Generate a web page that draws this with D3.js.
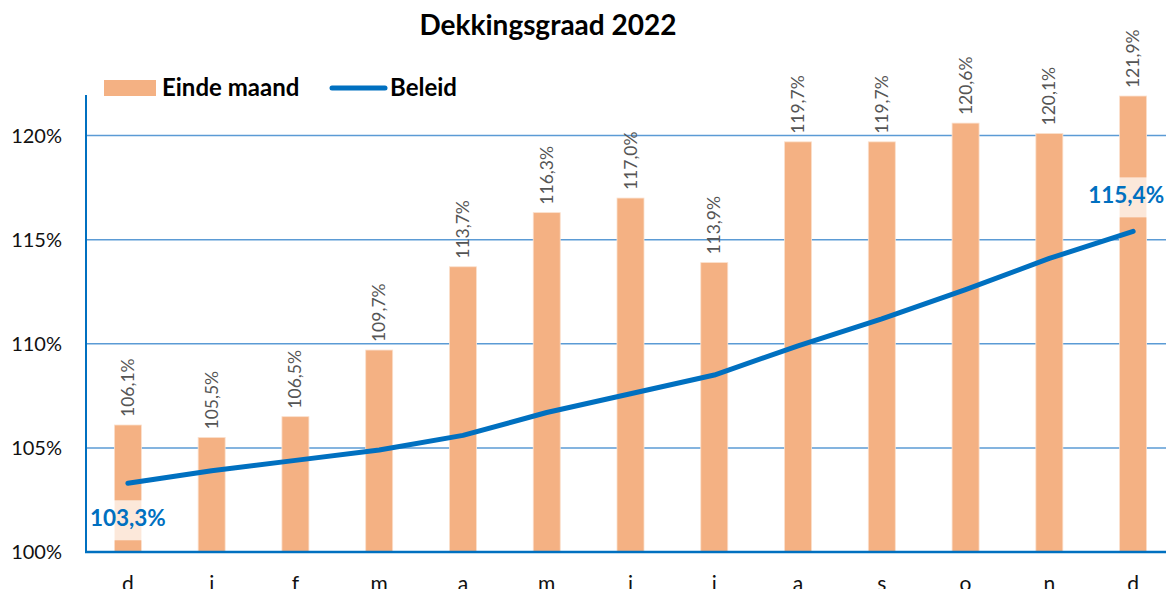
<!DOCTYPE html>
<html>
<head>
<meta charset="utf-8">
<script src="https://cdn.jsdelivr.net/npm/d3@7"></script>
<style>
  body { margin: 0; background: #fff; }
  svg { font-family: Lato, "Noto Sans", sans-serif; }
</style>
</head>
<body>
<svg id="drawing_region"></svg>
<script>
const months = ["d", "j", "f", "m", "a", "m", "j", "j", "a", "s", "o", "n", "d"];
const eindeMaand = [106.1, 105.5, 106.5, 109.7, 113.7, 116.3, 117.0, 113.9, 119.7, 119.7, 120.6, 120.1, 121.9];
const beleid = [103.3, 103.9, 104.4, 104.9, 105.6, 106.7, 107.6, 108.5, 109.9, 111.2, 112.6, 114.1, 115.4];
const yTicks = [100, 105, 110, 115, 120];

const fmt = v => v.toFixed(1).replace(".", ",") + "%";

const config = {
    width: 1166,
    height: 589,
    margin: {top: 95, left: 86, bottom: 37},
    plotWidth: 1089
};

const svg = d3.select("#drawing_region")
    .attr("width", config.width)
    .attr("height", config.height);

const innerH = config.height - config.margin.top - config.margin.bottom;

const chart = svg.append("g")
    .attr("transform", `translate(${config.margin.left}, ${config.margin.top})`);

const idx = months.map((m, i) => i);

const xscale = d3.scaleBand()
    .domain(idx)
    .range([0, config.plotWidth]);

const yscale = d3.scaleLinear()
    .domain([100, 121.95])
    .range([innerH, 0]);

// gridlines
chart.append("g")
    .selectAll("line")
    .data(yTicks.slice(1))
    .join("line")
    .attr("x1", 0)
    .attr("x2", config.plotWidth)
    .attr("y1", d => yscale(d))
    .attr("y2", d => yscale(d))
    .attr("stroke", "#5b9bd5")
    .attr("stroke-width", 1.5);

// y axis labels
const yaxis = d3.axisLeft(yscale)
    .tickValues(yTicks)
    .tickSize(0)
    .tickPadding(24)
    .tickFormat(d => d + "%");

const yg = chart.append("g").call(yaxis);
yg.select(".domain").remove();
yg.selectAll("text")
    .attr("font-size", 20)
    .attr("fill", "#111")
    .attr("font-family", "Lato, sans-serif");

// bars
const barW = 27;
chart.append("g")
    .selectAll("rect")
    .data(eindeMaand)
    .join("rect")
    .attr("x", (d, i) => xscale(i) + xscale.bandwidth() / 2 - barW / 2)
    .attr("y", d => yscale(d))
    .attr("width", barW)
    .attr("height", d => innerH - yscale(d))
    .attr("fill", "#f4b183")
    .attr("stroke", "#fbe0cd")
    .attr("stroke-width", 0.8);

// bar labels
chart.append("g")
    .selectAll("text")
    .data(eindeMaand)
    .join("text")
    .attr("transform", (d, i) => `translate(${xscale(i) + xscale.bandwidth() / 2 + 6}, ${yscale(d) - 8}) rotate(-90)`)
    .attr("font-size", 17.5)
    .attr("fill", "#555")
    .text(d => fmt(d));

// axis lines
chart.append("line")
    .attr("x1", 0).attr("x2", 0)
    .attr("y1", 0).attr("y2", innerH)
    .attr("stroke", "#0070c0")
    .attr("stroke-width", 2);
chart.append("line")
    .attr("x1", -1).attr("x2", config.plotWidth)
    .attr("y1", innerH).attr("y2", innerH)
    .attr("stroke", "#0070c0")
    .attr("stroke-width", 2.5);

// x axis labels (cut off by the bottom edge, as in the original)
const xaxis = d3.axisBottom(xscale)
    .tickSize(0)
    .tickPadding(24)
    .tickFormat(i => months[i]);
const xg = chart.append("g")
    .attr("transform", `translate(0, ${innerH})`)
    .call(xaxis);
xg.select(".domain").remove();
xg.selectAll("text")
    .attr("font-size", 21)
    .attr("fill", "#111")
    .attr("font-family", "Lato, sans-serif");

// beleid line
const line = d3.line()
    .x((d, i) => xscale(i) + xscale.bandwidth() / 2)
    .y(d => yscale(d));

chart.append("path")
    .datum(beleid)
    .attr("d", line)
    .attr("fill", "none")
    .attr("stroke", "#0070c0")
    .attr("stroke-width", 5)
    .attr("stroke-linecap", "round")
    .attr("stroke-linejoin", "round");

// start and end labels of beleid
const endLabels = [
    {i: 0, dy: 37, anchor: "start", dx: -38},
    {i: beleid.length - 1, dy: -34, anchor: "end", dx: 31}
];
endLabels.forEach(l => {
    const cx = xscale(l.i) + xscale.bandwidth() / 2 + l.dx;
    const cy = yscale(beleid[l.i]) + l.dy;
    const g = chart.append("g");
    const t = g.append("text")
        .attr("x", cx)
        .attr("y", cy)
        .attr("text-anchor", l.anchor)
        .attr("dominant-baseline", "middle")
        .attr("font-size", 22.5)
        .attr("font-weight", "bold")
        .attr("fill", "#0070c0")
        .text(fmt(beleid[l.i]));
    const bb = t.node().getBBox();
    g.insert("rect", "text")
        .attr("x", bb.x - 2)
        .attr("y", cy - 20)
        .attr("width", bb.width + 4)
        .attr("height", 40)
        .attr("fill", "#fff")
        .attr("opacity", 0.7);
});

// title
svg.append("text")
    .attr("x", 548)
    .attr("y", 35)
    .attr("text-anchor", "middle")
    .attr("font-size", 28)
    .attr("font-weight", "bold")
    .attr("fill", "#000")
    .text("Dekkingsgraad 2022");

// legend
const legend = svg.append("g");
legend.append("rect")
    .attr("x", 104).attr("y", 80)
    .attr("width", 52).attr("height", 16)
    .attr("fill", "#f4b183");
legend.append("text")
    .attr("x", 162).attr("y", 96)
    .attr("font-size", 24)
    .attr("font-weight", "bold")
    .text("Einde maand");
legend.append("line")
    .attr("x1", 332).attr("x2", 385)
    .attr("y1", 88).attr("y2", 88)
    .attr("stroke", "#0070c0")
    .attr("stroke-width", 5)
    .attr("stroke-linecap", "round");
legend.append("text")
    .attr("x", 390).attr("y", 96)
    .attr("font-size", 24)
    .attr("font-weight", "bold")
    .text("Beleid");
</script>
</body>
</html>
